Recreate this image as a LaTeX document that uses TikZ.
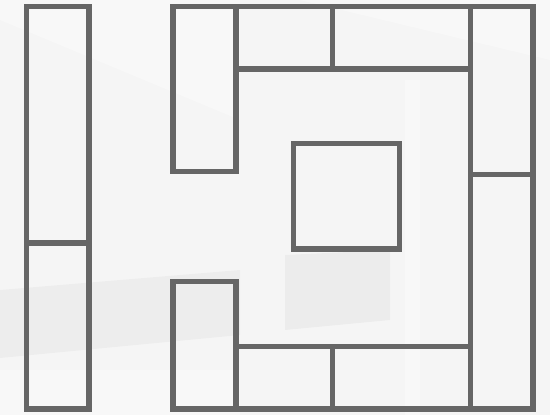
\documentclass[tikz,border=0pt]{standalone}
\begin{document}
\begin{tikzpicture}[x=1pt,y=-1pt,
  wall/.style={draw=wallgrey,line width=5.4pt,line join=miter,line cap=rect},
  bgpatch/.style={fill=black,fill opacity=#1,draw=none}]
\definecolor{wallgrey}{HTML}{666666}
\definecolor{bgbase}{HTML}{F5F5F5}
\useasboundingbox (0,0) rectangle (550,415);
% faint photographic background
\fill[bgbase] (0,0) rectangle (550,415);
\fill[white,opacity=0.35] (0,0) -- (300,0) -- (550,60) -- (550,0) -- cycle;
\fill[white,opacity=0.3] (0,20) -- (240,120) -- (240,0) -- (0,0) -- cycle;
\fill[bgpatch=0.03] (0,290) -- (240,270) -- (240,335) -- (0,358) -- cycle;
\fill[bgpatch=0.035] (285,255) -- (390,250) -- (390,320) -- (285,330) -- cycle;
\fill[white,opacity=0.3] (405,80) rectangle (420,415);
\fill[white,opacity=0.3] (0,370) rectangle (240,415);
% walls
\draw[wall] (26.7,6.3) rectangle (89,409);
\draw[wall] (26.7,243) -- (89,243);
\draw[wall] (173,6.3) rectangle (236,171.7);
\draw[wall] (236,6.3) rectangle (470.3,69);
\draw[wall] (332.5,6.3) -- (332.5,69);
\draw[wall] (470.3,6.3) rectangle (533,409);
\draw[wall] (470.3,174.7) -- (533,174.7);
\draw[wall] (173,281.7) rectangle (236,409);
\draw[wall] (236,346.7) rectangle (470.3,409);
\draw[wall] (332.5,346.7) -- (332.5,409);
\draw[wall] (293.7,143.3) rectangle (399.7,249);
\end{tikzpicture}
\end{document}
